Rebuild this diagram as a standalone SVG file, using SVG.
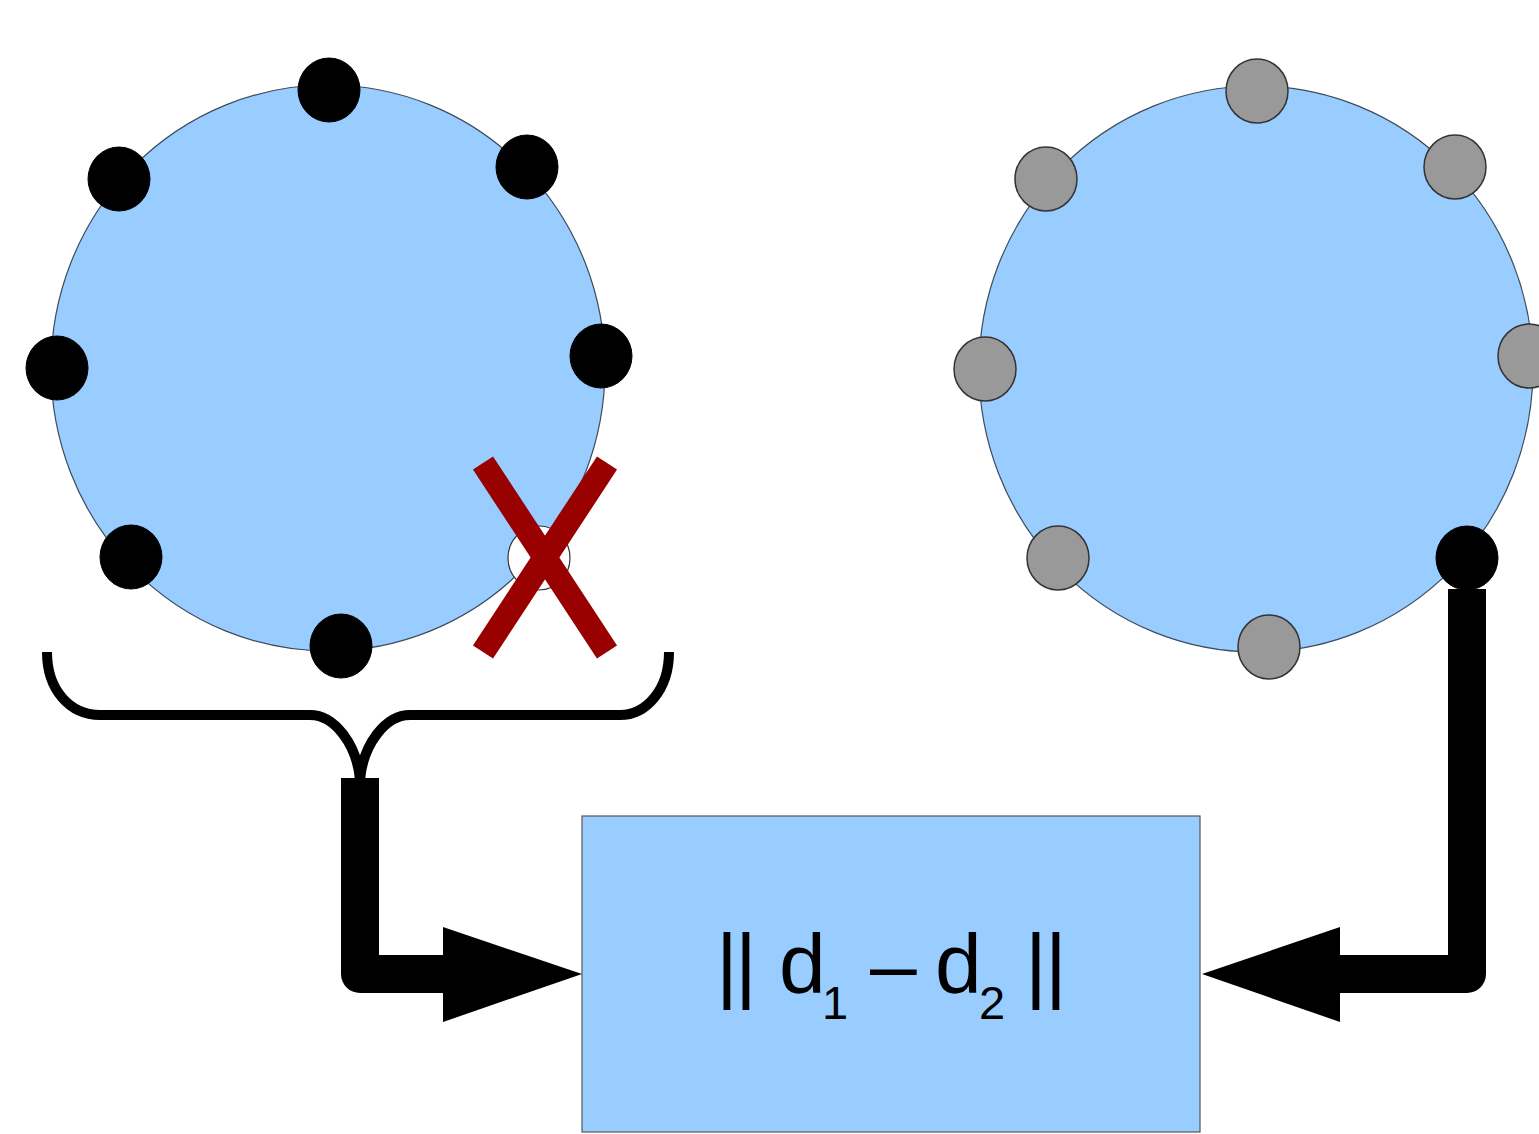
<svg xmlns="http://www.w3.org/2000/svg" width="1539" height="1134" viewBox="0 0 1539 1134">
<style>
.ring{fill:#99ccff;stroke:#3c4c5c;stroke-width:1.2}
.bd{fill:#000;stroke:#000;stroke-width:1}
.gd{fill:#999999;stroke:#333;stroke-width:1.5}
.wd{fill:#fff;stroke:#333;stroke-width:1.2}
.box{fill:#99ccff;stroke:#555;stroke-width:1.2}
.brace{fill:none;stroke:#000;stroke-width:10}
.pipe{fill:none;stroke:#000;stroke-width:38;stroke-linejoin:round;stroke-linecap:butt}
.lbl{font-family:"Liberation Sans",Arial,sans-serif;fill:#000;font-size:84px}
.sub{font-size:47px}
.x{stroke:#990000;stroke-width:24;stroke-linecap:butt}
</style>
<rect width="1539" height="1134" fill="#fff"/>
<g id="left-ring">
<ellipse class="ring" cx="328" cy="368" rx="277" ry="283"/>
<ellipse class="bd" cx="329" cy="90" rx="31" ry="32"/>
<ellipse class="bd" cx="119" cy="179" rx="31" ry="32"/>
<ellipse class="bd" cx="527" cy="167" rx="31" ry="32"/>
<ellipse class="bd" cx="57" cy="368" rx="31" ry="32"/>
<ellipse class="bd" cx="601" cy="356" rx="31" ry="32"/>
<ellipse class="bd" cx="131" cy="557" rx="31" ry="32"/>
<ellipse class="bd" cx="341" cy="646" rx="31" ry="32"/>
<ellipse class="wd" cx="539" cy="558" rx="31" ry="32"/>
</g>
<g id="cross">
<line class="x" x1="483" y1="463" x2="607" y2="652"/>
<line class="x" x1="607" y1="463" x2="483" y2="652"/>
</g>
<g id="right-ring">
<ellipse class="ring" cx="1256" cy="369" rx="277" ry="283"/>
<ellipse class="gd" cx="1257" cy="91" rx="31" ry="32"/>
<ellipse class="gd" cx="1046" cy="179" rx="31" ry="32"/>
<ellipse class="gd" cx="1455" cy="167" rx="31" ry="32"/>
<ellipse class="gd" cx="985" cy="369" rx="31" ry="32"/>
<ellipse class="gd" cx="1529" cy="356" rx="31" ry="32"/>
<ellipse class="gd" cx="1058" cy="558" rx="31" ry="32"/>
<ellipse class="gd" cx="1269" cy="647" rx="31" ry="32"/>
<ellipse class="bd" cx="1467" cy="558" rx="31" ry="32"/>
</g>
<g id="box">
<rect class="box" x="582" y="816" width="618" height="316"/>
<text class="lbl"><tspan x="716 735" y="993">||</tspan> <tspan x="779" y="993">d</tspan><tspan class="sub" x="822" y="1019">1</tspan> <tspan x="870" y="993">–</tspan> <tspan x="935" y="993">d</tspan><tspan class="sub" x="979" y="1019">2</tspan> <tspan x="1025 1045" y="993">||</tspan></text>
</g>
<g id="connectors">
<path class="brace" d="M47,652 C47,690 70,715 100,715 L310,715 C335,715 357,745 360,780"/>
<path class="brace" d="M669,652 C669,690 646,715 620,715 L410,715 C385,715 363,745 360,780"/>
<path class="pipe" d="M360,778 L360,974 L445,974"/>
<polygon points="443,927 582,974 443,1022" fill="#000"/>
<path class="pipe" d="M1467,589 L1467,974 L1338,974"/>
<polygon points="1340,927 1202,974 1340,1022" fill="#000"/>
</g>
</svg>
